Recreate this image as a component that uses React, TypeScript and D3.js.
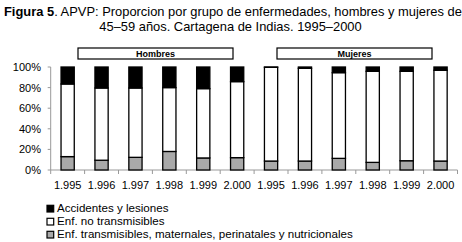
import React from "react";
import * as d3 from "d3";

const categories = ["H1995","H1996","H1997","H1998","H1999","H2000","M1995","M1996","M1997","M1998","M1999","M2000"];
const tickLabels = ["1.995","1.996","1.997","1.998","1.999","2.000","1.995","1.996","1.997","1.998","1.999","2.000"];
// percentages
const transmisibles = [13, 9.5, 12.3, 18, 11.7, 12, 8.7, 8.7, 11.3, 7.4, 9, 8.7];
const noTransmisibles = [70.5, 70.1, 67.3, 62, 67.3, 73.8, 91, 90, 83.2, 88.4, 86.8, 88.1];
const accidentes = [16.5, 20.4, 20.4, 20, 21, 14.2, 0.3, 1.3, 5.5, 4.2, 4.2, 3.2];
const yTicks = [0, 20, 40, 60, 80, 100];
const groups = ["Hombres", "Mujeres"];
const seriesNames = ["Accidentes y lesiones", "Enf. no transmisibles", "Enf. transmisibles, maternales, perinatales y nutricionales"];
const seriesColors = ["#000000", "#ffffff", "#a9a9a9"];

export default function App() {
  const W = 462, H = 242;
  const left = 50.7, right = 457.5, top = 67, bottom = 170;
  const x = d3.scaleBand<string>().domain(categories).range([left, right]).paddingInner(0.61).paddingOuter(0.305);
  const y = d3.scaleLinear().domain([0, 100]).range([bottom, top]);
  const rows = categories.map((c, i) => ({ c, t: transmisibles[i], n: noTransmisibles[i], a: accidentes[i] }));
  const stack = d3.stack<any>().keys(["t", "n", "a"])(rows);
  const fills: Record<string, string> = { t: seriesColors[2], n: seriesColors[1], a: seriesColors[0] };
  const step = x.step();
  const font = "Liberation Sans, Arial, sans-serif";
  const boundaries = d3.range(categories.length + 1).map((i) => left + i * step);
  return (
    <svg width={W} height={H} style={{ position: "absolute", left: 0, top: 0 }} fontFamily={font}>
      <rect width={W} height={H} fill="#fff" />
      <text x={4} y={16} fontSize={12.9} fill="#000">
        <tspan fontWeight="bold">Figura 5</tspan>. APVP: Proporcion por grupo de enfermedades, hombres y mujeres de
      </text>
      <text x={230.5} y={31} fontSize={12.9} textAnchor="middle" fill="#000">45–59 años. Cartagena de Indias. 1995–2000</text>
      {groups.map((g, i) => {
        const x0 = i === 0 ? 78 : 277;
        return (
          <g key={g}>
            <rect x={x0} y={48} width={155} height={11} fill="#fff" stroke="#000" strokeWidth={1.2} />
            <text x={x0 + 77.5} y={57} fontSize={9} fontWeight="bold" textAnchor="middle">{g}</text>
          </g>
        );
      })}
      {/* y axis */}
      <line x1={left} x2={left} y1={top} y2={bottom} stroke="#999" />
      {yTicks.map((t) => (
        <g key={t}>
          <line x1={left - 3} x2={left} y1={y(t)} y2={y(t)} stroke="#999" />
          <text x={41} y={y(t) + 4} fontSize={11} textAnchor="end">{t}%</text>
        </g>
      ))}
      {/* x axis */}
      <line x1={left} x2={right} y1={bottom} y2={bottom} stroke="#999" />
      {boundaries.map((b, i) => (
        <line key={i} x1={b} x2={b} y1={bottom} y2={bottom + 4} stroke="#999" />
      ))}
      {categories.map((c, i) => (
        <text key={c} x={(x(c) as number) + x.bandwidth() / 2} y={189} fontSize={11} textAnchor="middle">{tickLabels[i]}</text>
      ))}
      {stack.map((s) => (
        <g key={s.key}>
          {s.map((d, i) => (
            <rect key={i} x={x(categories[i])} y={y(d[1])} width={x.bandwidth()} height={Math.max(0, y(d[0]) - y(d[1]))}
              fill={fills[s.key]} stroke="#000" strokeWidth={1.3} />
          ))}
        </g>
      ))}
      {seriesNames.map((n, i) => (
        <g key={n}>
          <rect x={47} y={205.3 + i * 13} width={6.7} height={6.7} fill={seriesColors[i]} stroke="#000" strokeWidth={1.2} />
          <text x={57} y={212.3 + i * 13} fontSize={11.6}>{n}</text>
        </g>
      ))}
    </svg>
  );
}
